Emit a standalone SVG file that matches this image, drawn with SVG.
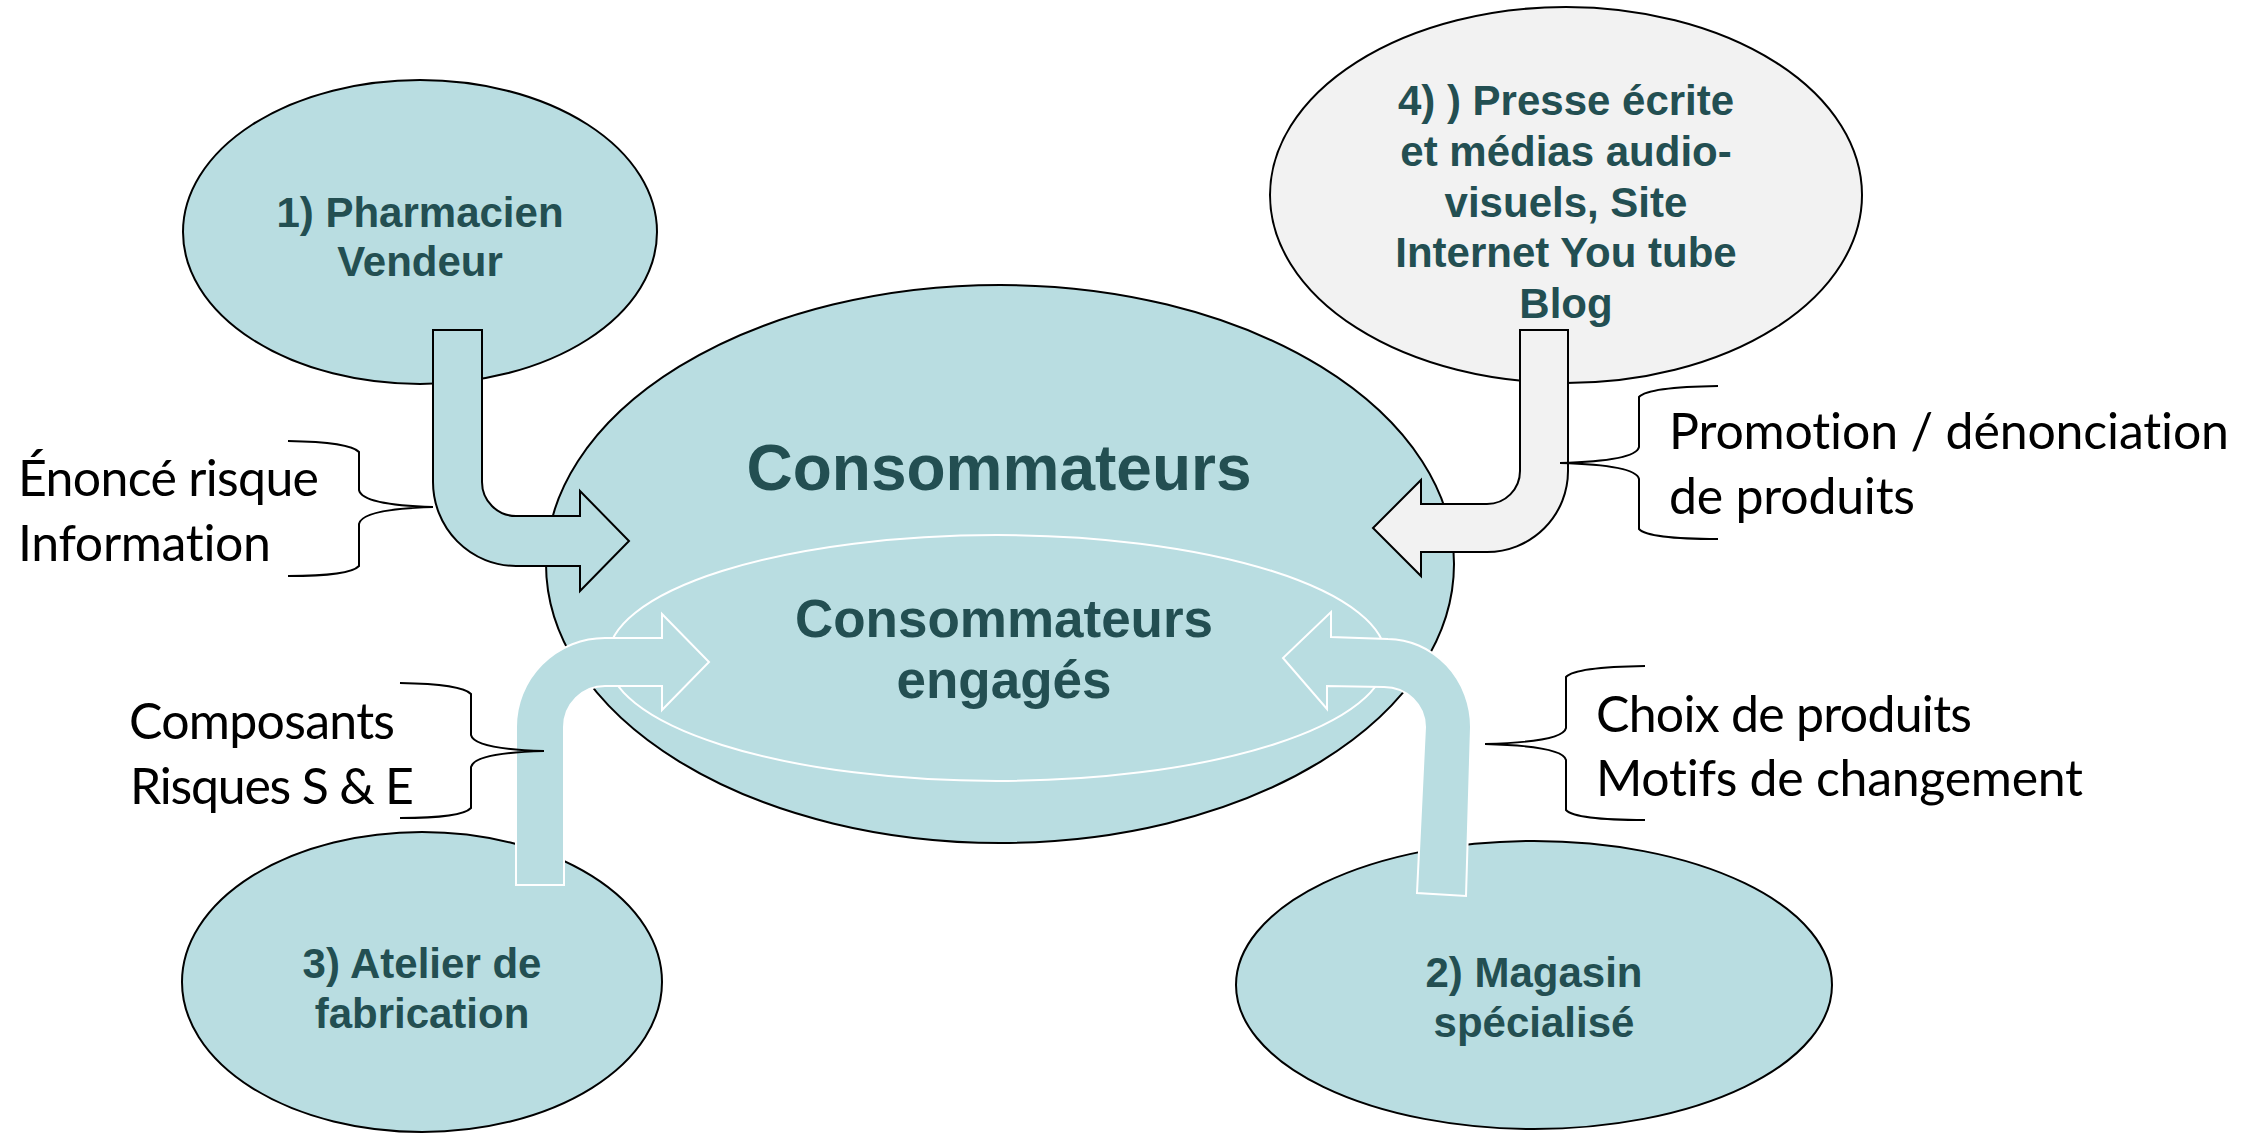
<svg xmlns="http://www.w3.org/2000/svg" width="2253" height="1133" viewBox="0 0 2253 1133">
<style>
.node{fill:#B9DDE1;stroke:#000;stroke-width:2}
.gray{fill:#F2F2F2;stroke:#000;stroke-width:2}
.lbl{font-family:"Liberation Sans",Arial,sans-serif;font-weight:bold;fill:#234F52;text-anchor:middle}
.arrowDark{fill:#B9DDE1;stroke:#000;stroke-width:2;stroke-linejoin:miter}
.arrowLight{fill:#B9DDE1;stroke:#FFF;stroke-width:2;stroke-linejoin:miter}
.brace{fill:none;stroke:#000;stroke-width:2}
.side{font-family:Lato,"Open Sans",sans-serif;font-size:50px;fill:#000;font-variant-ligatures:none}
</style>
<rect width="2253" height="1133" fill="#FFF"/>
<g id="node-pharmacien">
<ellipse class="node" cx="420" cy="232" rx="237" ry="152"/>
<text class="lbl" font-size="42" x="420" y="227">1) Pharmacien</text>
<text class="lbl" font-size="42" x="420" y="276">Vendeur</text>
</g>
<g id="node-presse">
<ellipse class="gray" cx="1566" cy="195" rx="296" ry="188"/>
<text class="lbl" font-size="42" x="1566" y="115">4) ) Presse écrite</text>
<text class="lbl" font-size="42" x="1566" y="166">et médias audio-</text>
<text class="lbl" font-size="42" x="1566" y="217">visuels, Site</text>
<text class="lbl" font-size="42" x="1566" y="267">Internet You tube</text>
<text class="lbl" font-size="42" x="1566" y="318">Blog</text>
</g>
<g id="node-consommateurs">
<ellipse class="node" cx="1000" cy="564" rx="454" ry="279"/>
<text class="lbl" font-size="64" x="999" y="490">Consommateurs</text>
</g>
<g id="node-engages">
<ellipse cx="997" cy="658" rx="389" ry="123" fill="none" stroke="#FFF" stroke-width="2"/>
<text class="lbl" font-size="53" x="1004" y="637">Consommateurs</text>
<text class="lbl" font-size="53" x="1004" y="698">engagés</text>
</g>
<g id="node-atelier">
<ellipse class="node" cx="422" cy="982" rx="240" ry="150"/>
<text class="lbl" font-size="42" x="422" y="978">3) Atelier de</text>
<text class="lbl" font-size="42" x="422" y="1028">fabrication</text>
</g>
<g id="node-magasin">
<ellipse class="node" cx="1534" cy="985" rx="298" ry="144"/>
<text class="lbl" font-size="42" x="1534" y="987">2) Magasin</text>
<text class="lbl" font-size="42" x="1534" y="1037">spécialisé</text>
</g>
<g id="connectors">
<path class="arrowDark" d="M433,330 H482 V482 A34,34 0 0 0 516,516 H580 V491 L629,541 L580,591 V566 H516 A83,84 0 0 1 433,482 Z"/>
<path class="arrowDark" style="fill:#F2F2F2" d="M1520,330 H1568 V471 A81,81 0 0 1 1487,552 H1421 V576 L1373,528 L1421,480 V504 H1487 A33,33 0 0 0 1520,471 Z"/>
<path class="arrowLight" d="M516,885 V727 A89,89 0 0 1 605,638 H662 V614 L709,662 L662,710 V686 H605 A41,41 0 0 0 564,727 V885 Z"/>
<path class="arrowLight" d="M1417,893 L1425,727 A41,40 0 0 0 1384,687 L1327,686 L1327,709 L1283,658 L1331,612 L1331,637 L1388,639 A84,88 0 0 1 1471,727 L1466,896 Z"/>
</g>
<g id="annotations">
<path class="brace" d="M288,441 Q350,442 359,452 L359,490 Q362,505 433,507 Q362,509 359,524 L359,566 Q350,576 288,576"/>
<text class="side" x="18" y="496" textLength="301">Énoncé risque</text>
<text class="side" x="18" y="561" textLength="253">Information</text>
<path class="brace" d="M1718,386 Q1648,387 1639,397 L1639,447 Q1636,461 1560,463 Q1636,465 1639,479 L1639,529 Q1648,539 1718,539"/>
<text class="side" x="1669" y="449" textLength="560">Promotion / dénonciation</text>
<text class="side" x="1669" y="514" textLength="246">de produits</text>
<path class="brace" d="M400,683 Q462,684 471,694 L471,735 Q474,749 544,751 Q474,753 471,767 L471,808 Q462,818 400,818"/>
<text class="side" x="129" y="739" textLength="266">Composants</text>
<text class="side" x="130" y="804" textLength="284">Risques S &amp; E</text>
<path class="brace" d="M1645,666 Q1575,667 1566,677 L1566,728 Q1563,742 1485,744 Q1563,746 1566,760 L1566,810 Q1575,820 1645,820"/>
<text class="side" x="1596" y="732" textLength="376">Choix de produits</text>
<text class="side" x="1596" y="796" textLength="487">Motifs de changement</text>
</g>
</svg>
